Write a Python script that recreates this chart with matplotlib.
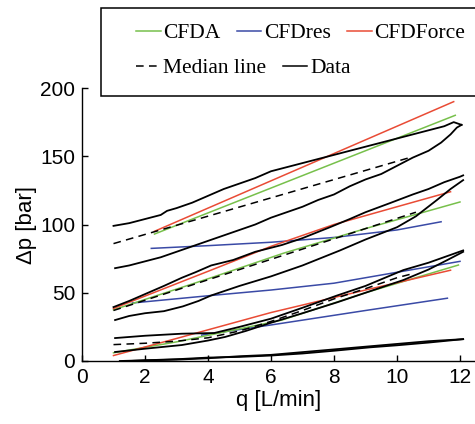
import matplotlib
matplotlib.use('Agg')
import matplotlib.pyplot as plt
from matplotlib.lines import Line2D
from matplotlib.patches import Rectangle

# ---- measured data, q [L/min] vs dp [bar] (up and down sweeps) ----
# group 1 (top)
q_d1a = [1.0, 1.5, 2.0, 2.5, 2.7, 3.0, 3.5, 4.0, 4.5, 5.0, 5.5, 6.0, 6.5, 7.0, 7.5, 8.0, 8.5, 9.0, 9.5, 10.0, 10.5, 11.0, 11.5, 11.8, 12.05]
p_d1a = [99, 101, 104, 107, 110, 112, 116, 121, 126, 130, 134, 139, 142, 145, 148, 151, 154, 157, 160, 163, 166, 169, 172, 175, 173]
q_d1b = [1.05, 1.5, 2.0, 2.5, 3.0, 3.5, 4.0, 4.5, 5.0, 5.5, 6.0, 6.5, 7.0, 7.5, 8.0, 8.5, 9.0, 9.5, 10.0, 10.5, 11.0, 11.4, 11.7, 11.9, 12.05]
p_d1b = [68, 70, 73, 76, 80, 84, 88, 92, 96, 100, 105, 109, 113, 118, 122, 128, 133, 137, 143, 149, 154, 160, 166, 171, 173]
q_med1 = [1.0, 10.4]
p_med1 = [86, 149]
q_a1 = [2.3, 11.85]
p_a1 = [93, 180]
q_f1 = [2.3, 11.8]
p_f1 = [95, 190]
q_r1 = [2.2, 4.0, 6.0, 8.0, 10.0, 11.4]
p_r1 = [82.5, 84.5, 87, 90.5, 96, 102]

# group 2
q_d2a = [1.0, 1.5, 2.1, 2.6, 3.17, 3.6, 4.1, 4.8, 5.5, 6.35, 7.0, 7.87, 8.5, 9.0, 9.78, 10.5, 11.0, 11.5, 12.0, 12.1]
p_d2a = [39.5, 44, 50, 55, 61, 65, 70, 74, 80, 85, 90, 98, 104, 109, 115.7, 122, 126, 131, 135, 136]
q_d2b = [1.05, 1.5, 2.0, 2.6, 3.2, 3.7, 4.1, 5.0, 6.0, 7.0, 8.19, 9.0, 10.0, 10.6, 11.27, 11.7, 12.1]
p_d2b = [30, 33, 35, 36.5, 40, 44, 48, 55, 62, 70, 81, 89, 98, 106, 118, 126, 132.5]
q_med2 = [1.0, 10.6]
p_med2 = [37, 109]
q_a2 = [1.0, 4.1, 6.4, 9.0, 12.0]
p_a2 = [37.5, 61, 79, 97, 116.5]
q_f2 = [1.0, 4.1, 6.0, 8.0, 10.0, 11.7]
p_f2 = [38.5, 66.6, 84, 100, 113, 124]
q_r2 = [1.6, 4.1, 6.0, 8.0, 10.0, 12.0]
p_r2 = [42.5, 48, 52, 57, 65, 73]

# group 3
q_d3a = [1.05, 2.0, 3.17, 4.2, 5.0, 6.0, 7.0, 8.1, 9.0, 10.2, 11.0, 12.1]
p_d3a = [16.8, 18.5, 20, 20.5, 25, 31, 39, 48, 55, 66.6, 72, 81]
q_d3b = [1.05, 2.0, 3.17, 4.0, 4.54, 5.2, 5.97, 7.0, 8.1, 9.0, 10.2, 11.0, 11.6, 12.1]
p_d3b = [6.6, 9, 11.7, 15, 17.6, 22, 27.8, 35, 43, 50, 59.3, 67, 74, 80]
q_med3 = [1.0, 2.0, 3.0, 4.0, 5.0, 6.0, 7.0, 8.0, 9.0, 10.0, 10.5]
p_med3 = [12, 13, 14.5, 17, 22, 29, 37, 45.5, 53, 61, 64]
q_a3 = [1.0, 3.0, 6.35, 9.0, 11.95]
p_a3 = [6, 14, 30, 50, 70.3]
q_f3 = [1.0, 3.0, 6.0, 9.0, 11.7]
p_f3 = [4, 16.5, 35.5, 52, 66.5]
q_r3 = [3.8, 6.0, 9.0, 11.6]
p_r3 = [19, 26.4, 37, 46]

# group 4 (bottom)
q_d4a = [1.2, 2.0, 3.17, 4.0, 5.0, 6.0, 7.0, 8.0, 9.14, 10.0, 11.0, 12.1]
p_d4a = [0, 0.5, 1.5, 2.5, 3, 4, 5.5, 7.5, 10, 11.5, 13.5, 16]
q_d4b = [12.1, 11.0, 10.0, 9.0, 8.0, 7.0, 6.0, 5.0, 4.0, 3.0, 2.0, 1.5]
p_d4b = [16, 14.5, 12.5, 10.5, 8.5, 6.5, 4.5, 3.5, 2, 1, 0.5, 0]

xticks = [0, 2, 4, 6, 8, 10, 12]
yticks = [0, 50, 100, 150, 200]

c_a = '#77c04b'
c_r = '#3a4aa6'
c_f = '#e94b35'

fig = plt.figure(figsize=(4.75, 4.24), dpi=100)
ax = fig.add_axes([82/475, 63/424, 393/475, 273/424])

lw = 1.1
lwd = 1.3
for q, p in [(q_r1, p_r1), (q_r2, p_r2), (q_r3, p_r3)]:
    ax.plot(q, p, color=c_r, lw=lw)
for q, p in [(q_a1, p_a1), (q_a2, p_a2), (q_a3, p_a3)]:
    ax.plot(q, p, color=c_a, lw=lw)
for q, p in [(q_f1, p_f1), (q_f2, p_f2), (q_f3, p_f3)]:
    ax.plot(q, p, color=c_f, lw=lw)
for q, p in [(q_med1, p_med1), (q_med2, p_med2), (q_med3, p_med3)]:
    ax.plot(q, p, color='k', lw=lw, ls=(0, (5, 3.5)))
for q, p in [(q_d1a, p_d1a), (q_d1b, p_d1b), (q_d2a, p_d2a), (q_d2b, p_d2b),
             (q_d3a, p_d3a), (q_d3b, p_d3b), (q_d4a, p_d4a), (q_d4b, p_d4b)]:
    ax.plot(q, p, color='k', lw=lwd)

ax.set_xlim(0, 393/31.5)
ax.set_ylim(0, 200)
ax.set_xticks(xticks)
ax.set_yticks(yticks)
for s in ['top', 'right']:
    ax.spines[s].set_visible(False)
for s in ['left', 'bottom']:
    ax.spines[s].set_linewidth(1.0)
ax.tick_params(direction='in', length=4, width=1.0, labelsize=15, pad=5)
for lab in ax.get_xticklabels() + ax.get_yticklabels():
    lab.set_fontfamily('Liberation Sans')
ax.set_xlabel('q [L/min]', fontsize=16, family='Liberation Sans', labelpad=2)
ax.set_ylabel('Δp [bar]', fontsize=16, family='Liberation Sans', labelpad=2)

# legend box (runs off the right edge, like the original)
fig.patches.append(Rectangle((101/475, 1 - 96/424), 0.9, 88/424,
                             transform=fig.transFigure, fill=True,
                             facecolor='white', edgecolor='k', lw=1.1, zorder=5))
h1 = [Line2D([], [], color=c_a, lw=lw), Line2D([], [], color=c_r, lw=lw),
      Line2D([], [], color=c_f, lw=lw)]
h2 = [Line2D([], [], color='k', lw=lw, ls=(0, (5, 3.5))), Line2D([], [], color='k', lw=lw)]
kw = dict(frameon=False, borderpad=0, borderaxespad=0, handlelength=1.15,
          handletextpad=0.12, columnspacing=0.75,
          prop={'family': 'Liberation Serif', 'size': 15.5})
leg1 = fig.legend(h1, ['CFDA', 'CFDres', 'CFDForce'], ncol=3, loc='center left',
                  bbox_to_anchor=(136/475, 1 - 33/424), **kw)
leg2 = fig.legend(h2, ['Median line', 'Data'], ncol=2, loc='center left',
                  bbox_to_anchor=(136/475, 1 - 68/424), **kw)
leg1.set_zorder(6)
leg2.set_zorder(6)

fig.savefig('out.png', dpi=100)
